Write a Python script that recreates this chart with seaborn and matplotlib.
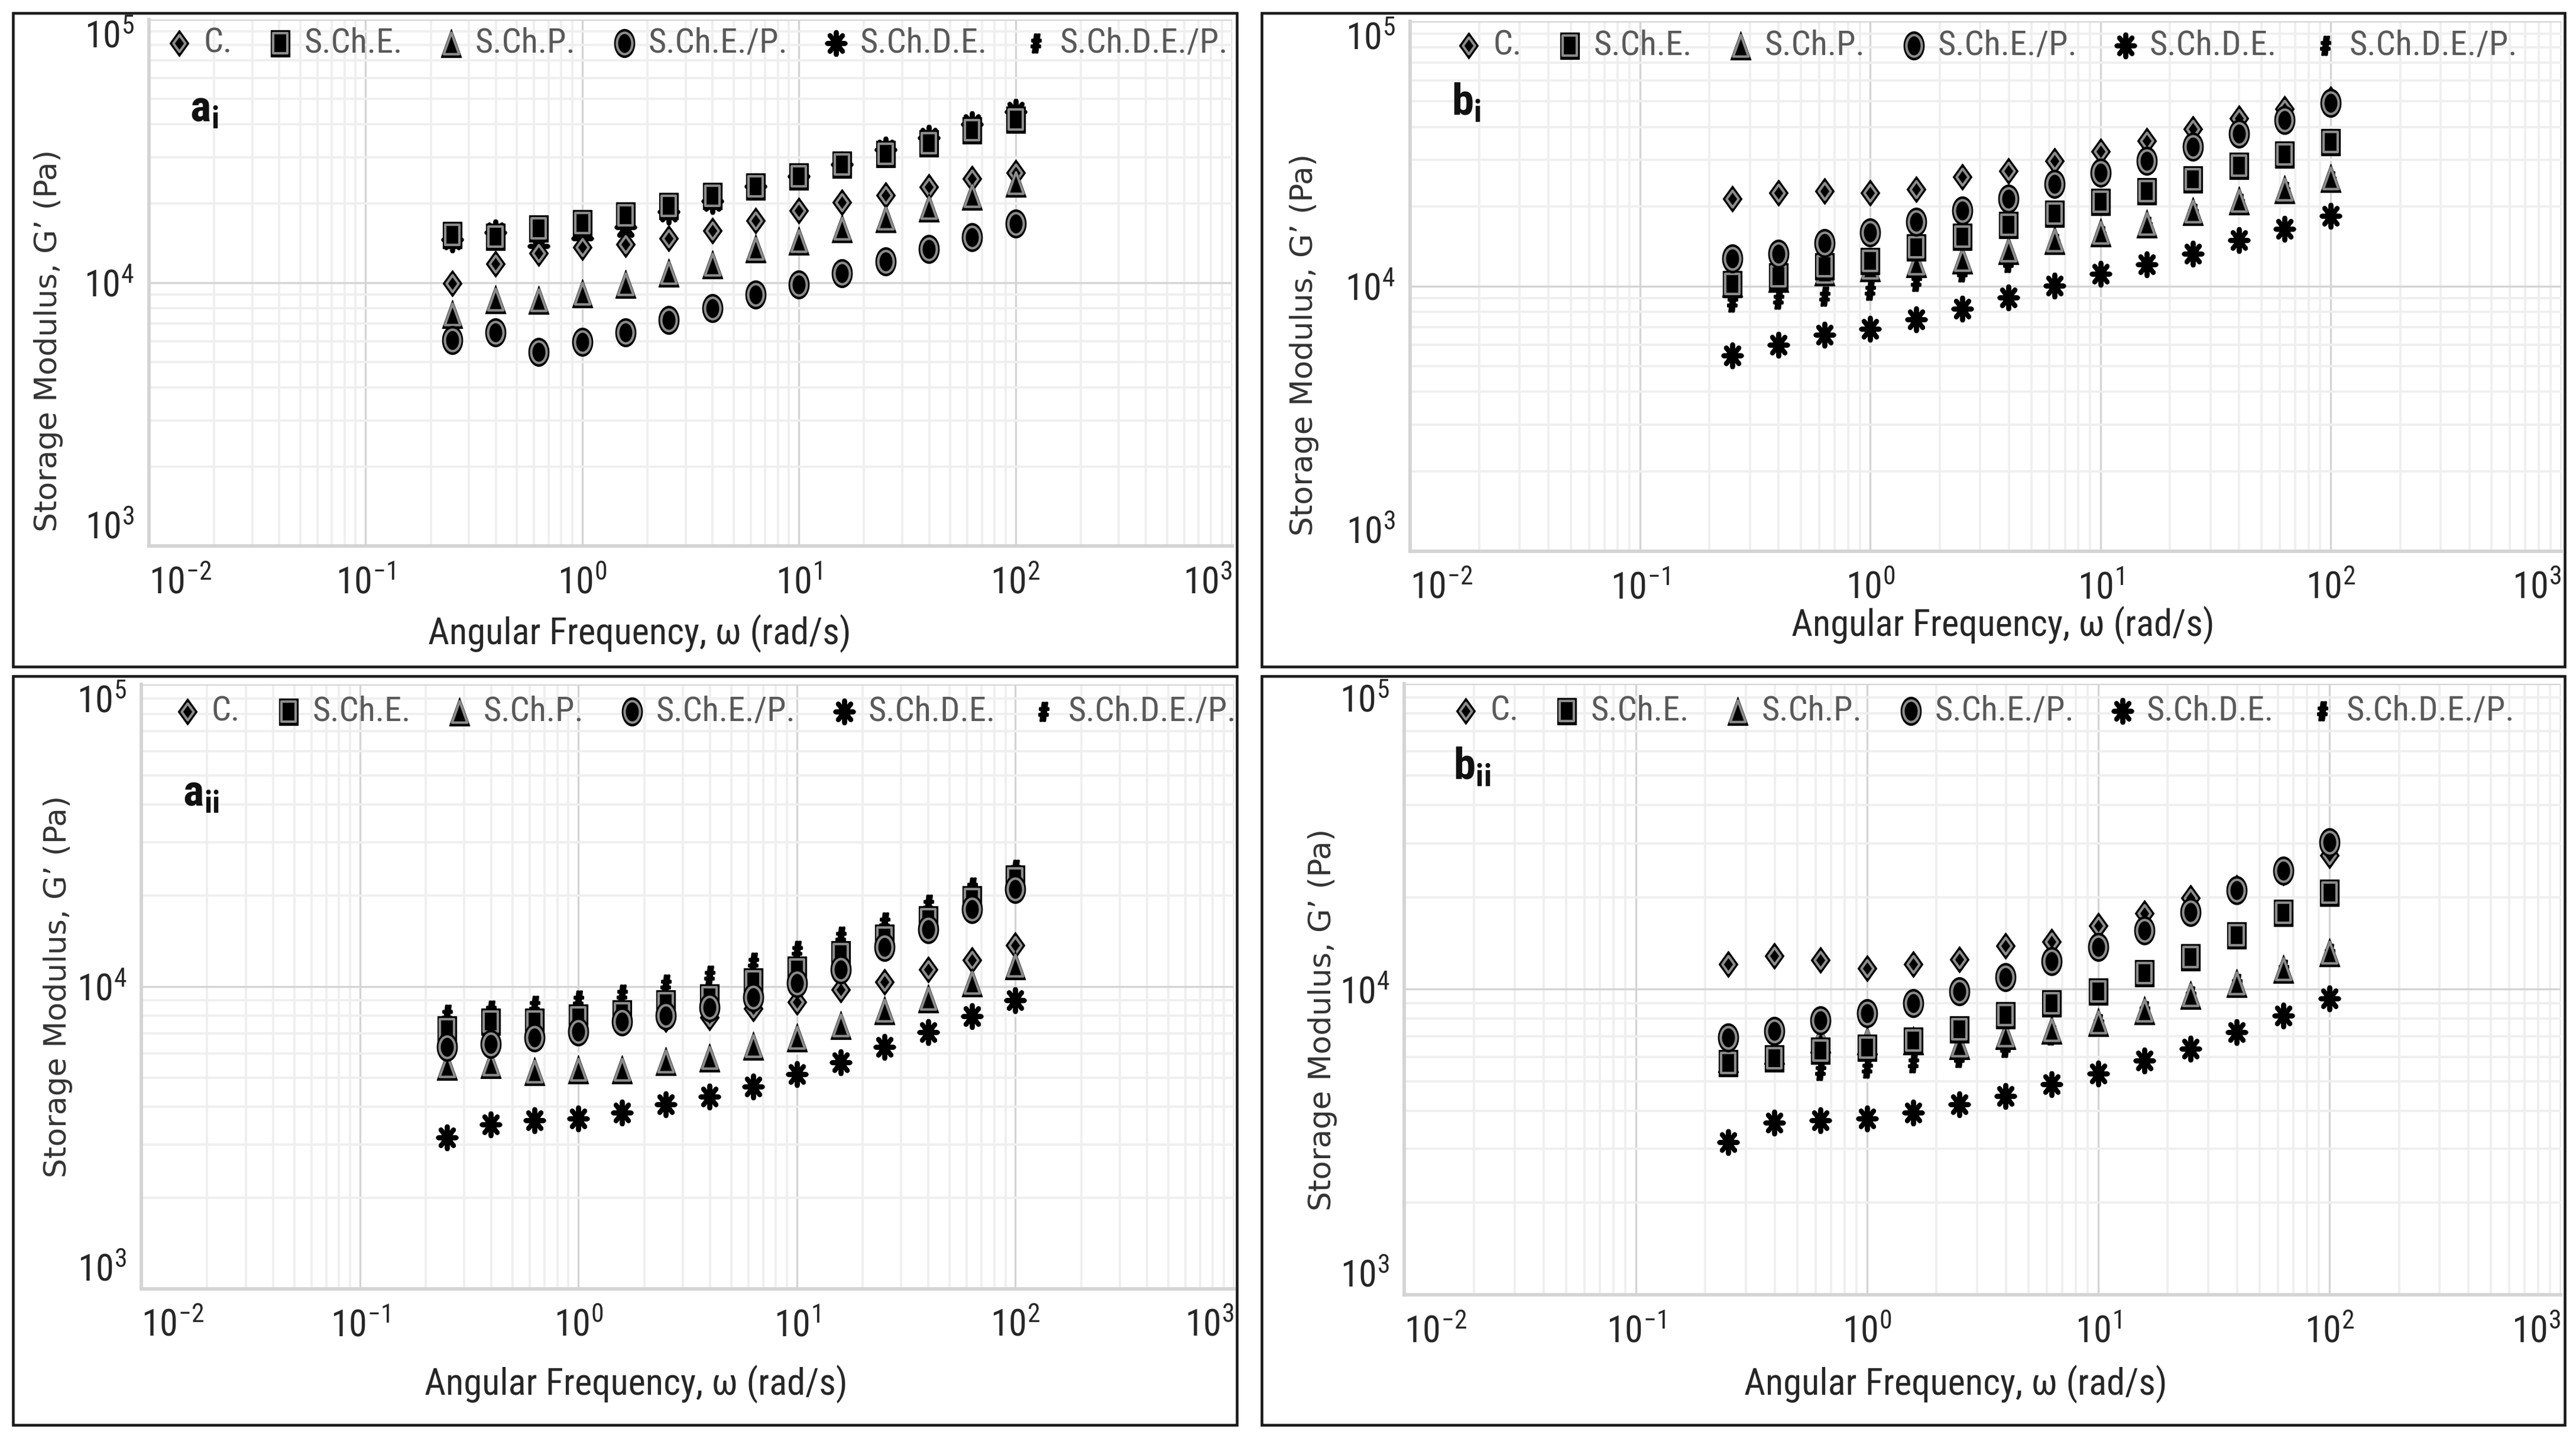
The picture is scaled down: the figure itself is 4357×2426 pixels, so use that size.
import pandas as pd
import matplotlib
matplotlib.use("Agg")
import matplotlib.pyplot as plt
import seaborn as sns
from matplotlib.markers import MarkerStyle
from matplotlib.transforms import Affine2D
from matplotlib.patches import Rectangle
from matplotlib import font_manager

installed = {f.name for f in font_manager.fontManager.ttflist}
NARROW = "DejaVu Sans"
for cand in ["Liberation Sans Narrow", "Roboto Condensed", "DejaVu Sans Condensed", "Liberation Sans"]:
    if cand in installed:
        NARROW = cand
        break

sns.set_theme(style="white")
plt.rcParams["font.family"] = [NARROW, "DejaVu Sans"]
plt.rcParams["mathtext.fontset"] = "custom"
plt.rcParams["mathtext.rm"] = NARROW
plt.rcParams["mathtext.it"] = NARROW + ":italic"
plt.rcParams["mathtext.bf"] = NARROW + ":bold"

# angular frequency (rad/s)
freq = [0.251, 0.398, 0.631, 1.0, 1.585, 2.512, 3.981, 6.31, 10.0, 15.85, 25.12, 39.81, 63.1, 100.0]
series_names = ["C.", "S.Ch.E.", "S.Ch.P.", "S.Ch.E./P.", "S.Ch.D.E.", "S.Ch.D.E./P."]

# panel a_i
ai_C = [9920, 11800, 12950, 13620, 13970, 14750, 15790, 17170, 18790, 20180, 21510, 23140, 24830, 26130]
ai_SChE = [15160, 15000, 16060, 16830, 18030, 19600, 21380, 23270, 25400, 28190, 30920, 33810, 38020, 41580]
ai_SChP = [7610, 8630, 8590, 9090, 9880, 10940, 11710, 13510, 14450, 16060, 17550, 19250, 21330, 23990]
ai_SChEP = [6050, 6470, 5470, 5960, 6470, 7200, 8000, 9000, 9830, 10880, 12060, 13400, 14900, 16750]
ai_SChDE = [14580, 15520, 13740, 14700, 16260, 18630, 20460, 23220, 25400, 28190, 31990, 35410, 39980, 44470]
ai_SChDEP = [14900, 14700, 15700, 16500, 17700, 19300, 21000, 22900, 25000, 27800, 30500, 33400, 37600, 41100]

# panel b_i
bi_C = [21420, 22550, 22930, 22550, 23290, 25890, 27210, 29700, 32330, 35460, 39240, 43050, 46900, 50900]
bi_SChE = [10220, 10930, 11890, 12500, 14060, 15420, 17050, 18870, 20880, 22920, 25350, 28500, 31570, 35160]
bi_SChP = [10300, 10750, 11400, 11800, 12190, 12620, 13710, 14930, 15960, 17220, 19200, 21080, 23300, 25580]
bi_SChEP = [12710, 13270, 14560, 15960, 17510, 19360, 21420, 24310, 26900, 29700, 33730, 37630, 42350, 49200]
bi_SChDE = [5480, 6010, 6550, 6890, 7490, 8220, 9080, 10050, 11120, 12100, 13280, 14940, 16510, 18410]
bi_SChDEP = [8710, 8940, 9170, 9640, 10400, 11300, 12300, 14500, 15500, 16800, 18800, 20600, 22800, 25000]

# panel a_ii
aii_C = [7110, 7440, 7440, 7560, 7670, 7790, 7910, 8470, 8870, 9790, 10360, 11370, 12270, 13690]
aii_SChE = [7210, 7670, 7670, 7910, 8150, 8800, 9210, 10400, 11400, 12790, 14560, 16700, 19460, 22800]
aii_SChP = [5450, 5530, 5240, 5320, 5320, 5650, 5830, 6380, 6790, 7450, 8340, 9140, 10320, 11750]
aii_SChEP = [6300, 6440, 6790, 7110, 7670, 8030, 8540, 9210, 10250, 11400, 13490, 15460, 18030, 20990]
aii_SChDE = [3170, 3500, 3610, 3660, 3830, 4070, 4330, 4670, 5120, 5610, 6300, 7050, 7960, 9000]
aii_SChDEP = [8090, 8340, 8670, 9000, 9420, 10170, 10890, 12030, 13180, 14670, 16320, 18720, 21300, 24430]

# panel b_ii
bii_C = [12080, 12820, 12450, 11690, 12080, 12490, 13840, 14320, 16140, 17740, 19900, 21410, 24050, 27400]
bii_SChE = [5740, 5940, 6300, 6450, 6780, 7410, 8220, 8990, 9850, 11280, 12750, 15040, 17820, 20690]
bii_SChP = [5940, 6340, 6890, 6780, 6780, 6550, 7070, 7350, 7790, 8530, 9570, 10470, 11660, 13180]
bii_SChEP = [6940, 7290, 7920, 8340, 8990, 9850, 10950, 12340, 13730, 15530, 17870, 21090, 24430, 30250]
bii_SChDE = [3160, 3650, 3720, 3780, 3940, 4190, 4460, 4880, 5300, 5840, 6390, 7230, 8180, 9330]
bii_SChDEP = [5650, 5840, 5420, 5510, 5740, 5980, 6440, 7060, 7700, 8500, 9500, 10400, 11600, 13100]

x_ticks = [1e-2, 1e-1, 1e0, 1e1, 1e2, 1e3]
x_ticklabels = [r"$10^{-2}$", r"$10^{-1}$", r"$10^{0}$", r"$10^{1}$", r"$10^{2}$", r"$10^{3}$"]
y_ticks = [1e3, 1e4, 1e5]
y_ticklabels = [r"$10^{3}$", r"$10^{4}$", r"$10^{5}$"]


def mk(m, sx=0.72):
    return MarkerStyle(m, transform=Affine2D().scale(sx, 1.0))


# marker style: (marker, size in pt, filled)
styles = {
    "C.": ("D", 7.6, True),
    "S.Ch.E.": ("s", 10.8, True),
    "S.Ch.P.": ("^", 11.5, True),
    "S.Ch.E./P.": ("o", 11.5, True),
    "S.Ch.D.E.": ((8, 2, 0), 9.0, False),
    "S.Ch.D.E./P.": (r"$\mathbf{\#}$", 7.5, False),
}
draw_order = ["S.Ch.D.E./P.", "S.Ch.D.E.", "C.", "S.Ch.P.", "S.Ch.E.", "S.Ch.E./P."]

panels = [
    # label, data, axes rect, box rect, ylabel pos, xlabel pos, tag pos, legend x
    (r"$\mathbf{a}_{\mathbf{i}}$", [ai_C, ai_SChE, ai_SChP, ai_SChEP, ai_SChDE, ai_SChDEP],
     [0.0578, 0.6195, 0.4205, 0.367], [0.0051, 0.5356, 0.475, 0.4552],
     (-0.079, 0.39), (0.453, -0.13), (0.038, 0.83), 0.505),
    (r"$\mathbf{b}_{\mathbf{i}}$", [bi_C, bi_SChE, bi_SChP, bi_SChEP, bi_SChDE, bi_SChDEP],
     [0.5473, 0.616, 0.4469, 0.369], [0.4898, 0.5356, 0.5058, 0.4552],
     (-0.079, 0.39), (0.515, -0.104), (0.036, 0.847), 0.5),
    (r"$\mathbf{a}_{\mathbf{ii}}$", [aii_C, aii_SChE, aii_SChP, aii_SChEP, aii_SChDE, aii_SChDEP],
     [0.0549, 0.102, 0.4241, 0.421], [0.0051, 0.0069, 0.475, 0.5218],
     (-0.063, 0.50), (0.453, -0.127), (0.038, 0.82), 0.515),
    (r"$\mathbf{b}_{\mathbf{ii}}$", [bii_C, bii_SChE, bii_SChP, bii_SChEP, bii_SChDE, bii_SChDEP],
     [0.5452, 0.0977, 0.4488, 0.426], [0.4898, 0.0069, 0.5058, 0.5218],
     (-0.058, 0.45), (0.477, -0.115), (0.042, 0.864), 0.5),
]

fig = plt.figure(figsize=(4357 / 300, 2426 / 300), dpi=300)

for tag, values, rect, box, ylab_pos, xlab_pos, tag_pos, leg_x in panels:
    ax = fig.add_axes(rect)
    rows = []
    for name, vals in zip(series_names, values):
        for f, g in zip(freq, vals):
            rows.append({"freq": f, "G": g, "sample": name})
    df = pd.DataFrame(rows)

    handles = {}
    for z, name in enumerate(draw_order):
        sub = df[df["sample"] == name]
        m, ms, filled = styles[name]
        if filled:
            sns.scatterplot(data=sub, x="freq", y="G", marker=mk(m), s=ms ** 2,
                            color="black", edgecolor="black", linewidth=0.3,
                            ax=ax, legend=False, zorder=3 + z)
            h1 = ax.collections[-1]
            inner = ms - 2.8
            sns.scatterplot(data=sub, x="freq", y="G", marker=mk(m), s=inner ** 2,
                            color="black", edgecolor="#8c8c8c", linewidth=1.0,
                            ax=ax, legend=False, zorder=3 + z)
            h2 = ax.collections[-1]
            handles[name] = (h1, h2)
        else:
            lw = 1.9 if name == "S.Ch.D.E." else 0.7
            sns.scatterplot(data=sub, x="freq", y="G", marker=mk(m, 0.8), s=ms ** 2,
                            color="black", edgecolor="black", linewidth=lw,
                            ax=ax, legend=False, zorder=3 + z)
            handles[name] = (ax.collections[-1],)

    ax.set_xscale("log")
    ax.set_yscale("log")
    ax.set_xlim(1e-2, 1e3)
    ax.set_ylim(1e3, 1e5)
    ax.set_xticks(x_ticks)
    ax.set_xticklabels(x_ticklabels)
    ax.set_yticks(y_ticks)
    ax.set_yticklabels(y_ticklabels)
    ax.minorticks_on()
    ax.tick_params(axis="both", which="both", length=0, labelsize=15, labelcolor="#262626")
    ax.tick_params(axis="x", pad=8)
    ax.tick_params(axis="y", pad=6)
    # end labels pulled inside the plot edges
    xl = ax.get_xticklabels()
    xl[0].set_ha("left")
    xl[-1].set_ha("right")
    yl = ax.get_yticklabels()
    yl[0].set_va("bottom")
    yl[-1].set_va("top")

    ax.grid(True, which="major", color="#d4d4d4", linewidth=0.8)
    ax.grid(True, which="minor", color="#efefef", linewidth=0.9)
    ax.set_axisbelow(True)
    for side in ["top", "right"]:
        ax.spines[side].set_visible(False)
    for side in ["left", "bottom"]:
        ax.spines[side].set_color("#d4d4d4")
        ax.spines[side].set_linewidth(1.4)

    ax.set_ylabel("Storage Modulus, G’ (Pa)", family="DejaVu Sans", fontsize=12.5, color="#333333")
    ax.yaxis.set_label_coords(*ylab_pos)
    ax.set_xlabel("Angular Frequency, ω (rad/s)", fontsize=15, color="#262626")
    ax.xaxis.set_label_coords(*xlab_pos)

    ax.text(tag_pos[0], tag_pos[1], tag, transform=ax.transAxes, fontsize=18,
            color="#111111", ha="left", va="center")

    leg = ax.legend([handles[n] for n in series_names], series_names,
                    loc="center", bbox_to_anchor=(leg_x, 0.955), ncol=6, frameon=False,
                    fontsize=14, labelcolor="#595959", handlelength=0.9,
                    handletextpad=0.25, columnspacing=0.95, borderaxespad=0)
    leg.set_zorder(20)

    fig.patches.append(Rectangle((box[0], box[1]), box[2], box[3], transform=fig.transFigure,
                                 fill=False, edgecolor="#1a1a1a", linewidth=1.1, zorder=30))

fig.savefig("out.png", dpi=300, facecolor="white")
